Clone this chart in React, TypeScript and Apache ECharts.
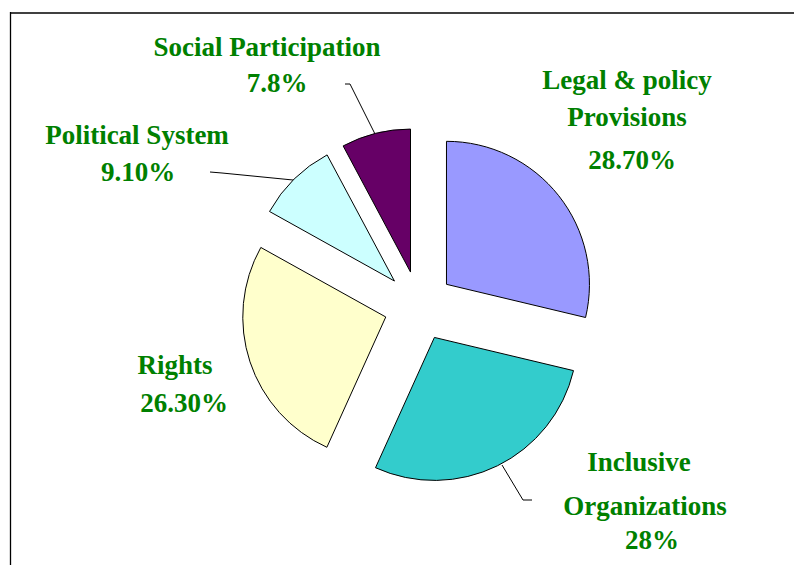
import React, { useEffect, useRef } from "react";
import * as echarts from "echarts";

const categories = [
  "Legal & policy\nProvisions",
  "Inclusive\nOrganizations",
  "Rights",
  "Political System",
  "Social Participation",
];
const values = [28.7, 28, 26.3, 9.1, 7.8];
const valueLabels = ["28.70%", "28%", "26.30%", "9.10%", "7.8%"];
const colors = ["#9999FF", "#33CCCC", "#FFFFCC", "#CCFFFF", "#660066"];

// centre of each text line of each label (layout only)
const labelLinePos: [number, number][][] = [
  [[627, 80], [627, 117], [632, 160]],
  [[639, 462], [645, 506], [652, 540]],
  [[175, 365], [184, 403]],
  [[137, 135], [138, 172]],
  [[267, 47], [277, 83]],
];
// leader lines (layout only)
const leaders: ([number, number][] | null)[] = [
  null,
  [[502, 465], [523, 500], [532, 500]],
  null,
  [[293, 180], [222, 173], [210, 172]],
  [[375, 134], [350, 84], [345, 84]],
];

export default function App() {
  const ref = useRef<HTMLDivElement>(null);
  useEffect(() => {
    if (!ref.current) return;
    const chart = echarts.init(ref.current, undefined, { renderer: "svg" });
    const data = values.map((v, i) => ({
      name: categories[i],
      value: v,
      selected: true,
      itemStyle: { color: colors[i] },
    }));

    const texts: any[] = [];
    categories.forEach((name, i) => {
      const lines = [...name.split("\n"), valueLabels[i]];
      lines.forEach((t, j) => {
        const p = labelLinePos[i][j];
        texts.push({
          type: "text",
          silent: true,
          style: {
            text: t,
            x: p[0],
            y: p[1],
            align: "center",
            verticalAlign: "middle",
            fill: "#008000",
            fontFamily: "Liberation Serif",
            fontWeight: "bold",
            fontSize: 27,
          },
        });
      });
    });
    const lines: any[] = leaders
      .filter((l) => l != null)
      .map((l) => ({
        type: "polyline",
        silent: true,
        shape: { points: l },
        style: { stroke: "#000000", lineWidth: 1, fill: null },
      }));

    chart.setOption({
      animation: false,
      backgroundColor: "#ffffff",
      graphic: [
        {
          type: "line",
          shape: { x1: 10, y1: 13, x2: 794, y2: 13 },
          style: { stroke: "#404040", lineWidth: 2 },
          silent: true,
        },
        {
          type: "line",
          shape: { x1: 10.5, y1: 12, x2: 10.5, y2: 565 },
          style: { stroke: "#000000", lineWidth: 1.3 },
          silent: true,
        },
        ...lines,
        ...texts,
      ],
      series: [
        {
          type: "pie",
          center: [419, 306],
          radius: 143,
          startAngle: 90,
          clockwise: true,
          selectedMode: "multiple",
          selectedOffset: 35,
          avoidLabelOverlap: false,
          emphasis: { disabled: true },
          itemStyle: { borderColor: "#000000", borderWidth: 1 },
          label: { show: false },
          labelLine: { show: false },
          data,
        },
      ],
    });
    return () => chart.dispose();
  }, []);
  return (
    <div
      ref={ref}
      style={{ position: "fixed", left: 0, top: 0, width: 794, height: 565 }}
    />
  );
}
